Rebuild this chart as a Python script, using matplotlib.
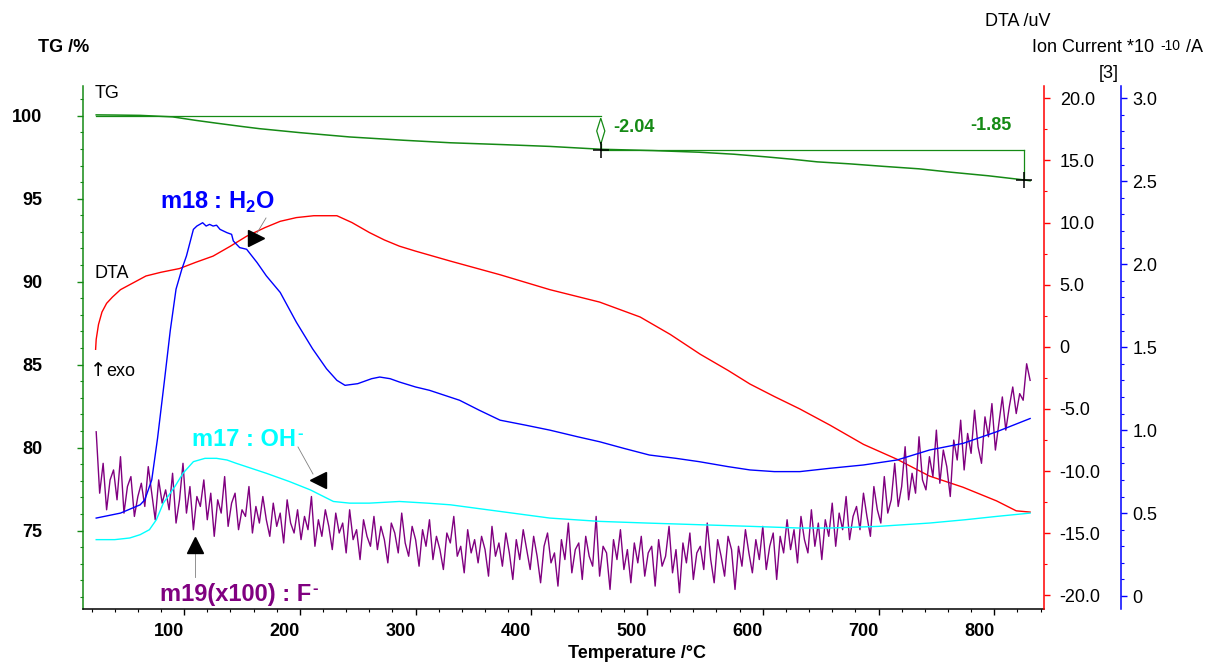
import numpy as np
import matplotlib
matplotlib.use("Agg")
import matplotlib.pyplot as plt
from matplotlib.lines import Line2D
from matplotlib.patches import Polygon
from matplotlib.ticker import FixedLocator, FuncFormatter
from matplotlib.transforms import ScaledTranslation, blended_transform_factory

plt.rcParams['font.family'] = ['Liberation Sans', 'DejaVu Sans']
plt.rcParams['mathtext.fontset'] = 'custom'
plt.rcParams['mathtext.rm'] = 'Liberation Sans'
plt.rcParams['mathtext.bf'] = 'Liberation Sans:bold'
plt.rcParams['axes.unicode_minus'] = False

W, H = 1219, 663

# TG mass curve (%)
tg_temp = [24, 40, 62, 90, 110, 128, 150, 165, 200, 243, 290, 330, 375, 416, 460,
           505, 545, 575, 603, 625, 647, 675, 704, 735, 762, 795, 826, 831]
tg_val = [100.05, 100.04, 100.02, 99.93, 99.72, 99.55, 99.35, 99.22, 98.98, 98.72, 98.52,
          98.37, 98.26, 98.15, 97.98, 97.9, 97.8, 97.68, 97.52, 97.38, 97.22, 97.1, 96.95,
          96.8, 96.6, 96.38, 96.13, 96.08]
tg_start = 100.0
tg_steps = [-2.04, -1.85]
tg_step_temp = [460, 826]

# DTA (uV)
dta_temp = [23.5, 24, 26, 29, 33, 38, 45, 53, 67, 80, 96, 110, 125, 140, 154, 170, 183, 197,
            212, 232, 245, 260, 273, 286, 300, 330, 373, 416, 459, 494, 520, 546, 570, 589,
            610, 632, 658, 687, 716, 744, 773, 802, 819, 831]
dta_val = [-0.2, 0.6, 1.8, 2.8, 3.5, 4.0, 4.6, 5.0, 5.7, 6.0, 6.3, 6.8, 7.3, 8.1, 8.9, 9.6,
           10.1, 10.4, 10.55, 10.55, 10.0, 9.2, 8.6, 8.1, 7.7, 6.9, 5.8, 4.6, 3.6, 2.4, 1.0,
           -0.6, -1.9, -3.0, -4.0, -5.0, -6.3, -7.85, -9.05, -10.4, -11.3, -12.4, -13.2, -13.3]

# ion current m18 (H2O), *1e-10 A
m18_temp = [24, 45, 62, 66, 72, 77, 83, 88, 93, 98, 102, 108, 111, 116, 119, 122, 125, 128,
            131, 137, 141, 142.5, 148, 154, 163, 171, 183, 197, 211, 223, 232, 239, 250, 262,
            269, 278, 286, 300, 312, 325, 338, 355, 373, 395, 416, 440, 459, 480, 502, 525,
            545, 570, 589, 610, 632, 658, 687, 716, 744, 773, 802, 831]
m18_val = [0.47, 0.50, 0.55, 0.58, 0.70, 0.95, 1.30, 1.60, 1.85, 1.97, 2.05, 2.21, 2.23, 2.25,
           2.23, 2.24, 2.23, 2.235, 2.21, 2.19, 2.18, 2.14, 2.10, 2.09, 2.01, 1.93, 1.83, 1.65,
           1.49, 1.37, 1.30, 1.27, 1.28, 1.31, 1.32, 1.31, 1.29, 1.26, 1.24, 1.21, 1.18, 1.12,
           1.06, 1.03, 1.0, 0.96, 0.93, 0.89, 0.85, 0.83, 0.81, 0.78, 0.76, 0.75, 0.75, 0.77,
           0.79, 0.82, 0.88, 0.92, 0.99, 1.07]

# ion current m17 (OH-)
m17_temp = [24, 40, 53, 62, 70, 76, 82, 87, 92, 99, 108, 118, 128, 137, 145, 158, 171, 191,
            209, 229, 243, 260, 286, 310, 330, 373, 416, 459, 500, 545, 590, 632, 658, 700,
            744, 775, 802, 831]
m17_val = [0.34, 0.34, 0.35, 0.37, 0.40, 0.46, 0.56, 0.61, 0.66, 0.74, 0.81, 0.83, 0.83,
           0.82, 0.80, 0.77, 0.74, 0.69, 0.64, 0.57, 0.56, 0.56, 0.57, 0.56, 0.55, 0.51,
           0.47, 0.45, 0.44, 0.43, 0.42, 0.41, 0.41, 0.42, 0.44, 0.46, 0.48, 0.50]

# ion current m19 x100 (F-), one reading every 3 degC from 24 degC
m19_val = [0.99, 0.62, 0.80, 0.52, 0.70, 0.76, 0.58, 0.84, 0.50, 0.66,
           0.72, 0.48, 0.60, 0.68, 0.54, 0.78, 0.62, 0.46, 0.70, 0.56,
           0.64, 0.52, 0.74, 0.44, 0.58, 0.80, 0.50, 0.66, 0.40, 0.60,
           0.54, 0.70, 0.46, 0.62, 0.36, 0.58, 0.50, 0.72, 0.42, 0.56,
           0.62, 0.40, 0.52, 0.48, 0.66, 0.38, 0.54, 0.44, 0.60, 0.46,
           0.36, 0.56, 0.42, 0.50, 0.32, 0.58, 0.44, 0.38, 0.52, 0.34,
           0.48, 0.40, 0.60, 0.30, 0.46, 0.36, 0.52, 0.42, 0.28, 0.50,
           0.38, 0.44, 0.26, 0.52, 0.34, 0.40, 0.22, 0.46, 0.36, 0.30,
           0.48, 0.28, 0.42, 0.34, 0.20, 0.44, 0.38, 0.26, 0.50, 0.32,
           0.24, 0.42, 0.34, 0.18, 0.40, 0.30, 0.46, 0.22, 0.36, 0.28,
           0.16, 0.38, 0.32, 0.48, 0.24, 0.30, 0.14, 0.40, 0.26, 0.34,
           0.20, 0.36, 0.28, 0.12, 0.42, 0.24, 0.32, 0.18, 0.38, 0.26,
           0.10, 0.34, 0.22, 0.40, 0.28, 0.16, 0.36, 0.24, 0.08, 0.30,
           0.38, 0.20, 0.26, 0.06, 0.34, 0.22, 0.44, 0.14, 0.28, 0.32,
           0.10, 0.36, 0.24, 0.18, 0.48, 0.12, 0.30, 0.26, 0.04, 0.34,
           0.22, 0.40, 0.16, 0.28, 0.08, 0.32, 0.20, 0.36, 0.12, 0.26,
           0.30, 0.06, 0.34, 0.18, 0.24, 0.42, 0.14, 0.28, 0.02, 0.32,
           0.20, 0.38, 0.10, 0.26, 0.30, 0.16, 0.44, 0.22, 0.08, 0.34,
           0.24, 0.12, 0.36, 0.28, 0.04, 0.30, 0.18, 0.40, 0.26, 0.14,
           0.34, 0.22, 0.42, 0.16, 0.30, 0.38, 0.10, 0.36, 0.26, 0.46,
           0.28, 0.40, 0.20, 0.48, 0.34, 0.26, 0.52, 0.30, 0.44, 0.22,
           0.46, 0.36, 0.56, 0.30, 0.50, 0.40, 0.60, 0.34, 0.48, 0.54,
           0.40, 0.62, 0.48, 0.36, 0.66, 0.52, 0.44, 0.72, 0.50, 0.58,
           0.80, 0.54, 0.66, 0.90, 0.58, 0.74, 0.62, 0.96, 0.70, 0.64,
           0.84, 0.72, 1.00, 0.68, 0.88, 0.78, 0.60, 0.94, 0.82, 1.06,
           0.76, 0.98, 0.86, 1.12, 0.90, 0.80, 1.08, 0.96, 1.16, 0.88,
           1.04, 1.20, 1.00, 1.14, 1.26, 1.10, 1.22, 1.18, 1.40, 1.30]
m19_temp = 24 + 3 * np.arange(len(m19_val))

temp_major = [100, 200, 300, 400, 500, 600, 700, 800]
tg_major = [75, 80, 85, 90, 95, 100]
dta_major = [-20, -15, -10, -5, 0, 5, 10, 15, 20]
ion_major = [0, 0.5, 1.0, 1.5, 2.0, 2.5, 3.0]

GREEN = '#158a15'
PURPLE = '#800080'


def fx(x):
    return x / W


def fy(y):
    return 1 - y / H


fig = plt.figure(figsize=(W / 100, H / 100), dpi=100)
ax = fig.add_axes([fx(83), fy(609), (1044 - 83) / W, (609 - 86) / H])
ax_dta = ax.twinx()
ax_ion = ax.twinx()

ax.set_xlim(12.6, 843)
ax.set_ylim(70.28, 101.79)
ax_dta.set_ylim(-21.1, 20.99)
ax_ion.set_ylim(-0.078, 3.074)

# spines
for a in (ax, ax_dta, ax_ion):
    for s in a.spines.values():
        s.set_visible(False)
ax.spines['left'].set_visible(True)
ax.spines['left'].set_color(GREEN)
ax.spines['bottom'].set_visible(True)
ax.spines['bottom'].set_color('black')
ax_dta.spines['right'].set_visible(True)
ax_dta.spines['right'].set_color('red')
ax_ion.spines['right'].set_visible(True)
ax_ion.spines['right'].set_color('blue')
ax_ion.spines['right'].set_position(('outward', 77 * 0.72))
for s in (ax.spines['left'], ax.spines['bottom'], ax_dta.spines['right'], ax_ion.spines['right']):
    s.set_linewidth(1.1)

# x axis: ticks at the values, labels drawn a little to the left
ax.xaxis.set_major_locator(FixedLocator(temp_major))
ax.xaxis.set_minor_locator(FixedLocator(np.arange(20, 841, 20)))
ax.tick_params(axis='x', which='major', length=4.3, width=1, color='black', labelbottom=False)
ax.tick_params(axis='x', which='minor', length=2.2, width=0.8, color='black')
xlab_tr = blended_transform_factory(ax.transData, ax.transAxes) + \
    ScaledTranslation(-15 / 100, -22 / 100, fig.dpi_scale_trans)
for t in temp_major:
    ax.text(t, 0, str(t), transform=xlab_tr, ha='center', va='center',
            fontsize=13, fontweight='bold')

# TG axis
ax.yaxis.set_major_locator(FixedLocator(tg_major))
ax.yaxis.set_minor_locator(FixedLocator(np.arange(71, 102, 1)))
ax.yaxis.set_major_formatter(FuncFormatter(lambda v, p: f'{v:.0f}'))
ax.tick_params(axis='y', which='major', length=4.3, width=1, color=GREEN, pad=25,
               labelsize=13)
ax.tick_params(axis='y', which='minor', length=2.2, width=0.8, color=GREEN)
for lab in ax.get_yticklabels():
    lab.set_fontweight('bold')


def dec_fmt(v, p):
    return '0' if abs(v) < 1e-9 else f'{v:.1f}'


ax_dta.yaxis.set_major_locator(FixedLocator(dta_major))
ax_dta.yaxis.set_minor_locator(FixedLocator(np.arange(-17.5, 20, 5)))
ax_dta.yaxis.set_major_formatter(FuncFormatter(dec_fmt))
ax_dta.tick_params(axis='y', which='major', length=4.3, width=1, color='red', pad=7,
                   labelsize=13)
ax_dta.tick_params(axis='y', which='minor', length=2.2, width=0.8, color='red')

ax_ion.yaxis.set_major_locator(FixedLocator(ion_major))
ax_ion.yaxis.set_minor_locator(FixedLocator(np.arange(0.1, 3.0, 0.1)))
ax_ion.yaxis.set_major_formatter(FuncFormatter(dec_fmt))
ax_ion.tick_params(axis='y', which='major', length=4.3, width=1, color='blue', pad=4,
                   labelsize=13)
ax_ion.tick_params(axis='y', which='minor', length=2.2, width=0.8, color='blue')

# curves
ax.plot(tg_temp, tg_val, color=GREEN, lw=1.1)
ax_dta.plot(dta_temp, dta_val, color='red', lw=1.0)
ax_ion.plot(m19_temp, m19_val, color=PURPLE, lw=1.0)
ax_ion.plot(m17_temp, m17_val, color='cyan', lw=1.0)
ax_ion.plot(m18_temp, m18_val, color='blue', lw=1.0)

# TG step evaluation
lvl1 = tg_start + tg_steps[0]
lvl2 = lvl1 + tg_steps[1]
t1, t2 = tg_step_temp
ax.plot([tg_temp[0], t1], [tg_start, tg_start], color=GREEN, lw=0.9)
ax.plot([t1, t2], [lvl1, lvl1], color=GREEN, lw=0.9)
ax.plot([t2, t2], [lvl1, lvl2], color=GREEN, lw=0.9)
ax.add_patch(Polygon([(t1, tg_start - 0.15), (t1 + 3.5, (tg_start + lvl1) / 2 + 0.1),
                      (t1, lvl1 + 0.32), (t1 - 3.5, (tg_start + lvl1) / 2 + 0.1)],
                     closed=True, fill=False, edgecolor=GREEN, lw=0.9))
ax.plot([t1, t1], [lvl1 + 0.32, lvl1], color=GREEN, lw=0.9)
ax.plot([t1, t2], [lvl1, lvl2], ls='', marker='+', ms=12, mew=1.1, color='black')

renderer = fig.canvas.get_renderer()


def tail_text(base, s, dx, dy, **kw):
    # put a small raised piece of text right after another text
    bb = base.get_window_extent(renderer)
    return fig.text(fx(bb.x1 + dx), (bb.y1 + dy) / H, s, ha='left', va='top', **kw)


# axis titles
fig.text(fx(38), fy(47), 'TG /%', fontsize=13, fontweight='bold', ha='left', va='center')
fig.text(fx(985), fy(21), 'DTA /uV', fontsize=13, ha='left', va='center')
ion_t = fig.text(fx(1032), fy(48), 'Ion Current *10', fontsize=13, ha='left', va='center')
exp_t = tail_text(ion_t, '-10', 6, 0, fontsize=10)
tail_text(exp_t, '/A', 6, 0, fontsize=13)
fig.text(fx(1109), fy(74), '[3]', fontsize=13, ha='center', va='center')
fig.text(fx(637), fy(653), 'Temperature /\u00b0C', fontsize=13, fontweight='bold',
         ha='center', va='center')

# curve names and step values
fig.text(fx(95), fy(94), 'TG', fontsize=13, ha='left', va='center')
fig.text(fx(95), fy(273), 'DTA', fontsize=13, ha='left', va='center')
fig.text(fx(90), fy(370), '\u2191', fontsize=14, family='DejaVu Sans', ha='left', va='center')
fig.text(fx(106), fy(371), 'exo', fontsize=13, ha='left', va='center')
fig.text(fx(613), fy(128), f'{tg_steps[0]:.2f}', fontsize=13, fontweight='bold',
         color=GREEN, ha='left', va='center')
fig.text(fx(970), fy(125), f'{tg_steps[1]:.2f}', fontsize=13, fontweight='bold',
         color=GREEN, ha='left', va='center')

fig.text(fx(160), fy(202), 'm18 : H$_{\\mathbf{2}}$O', fontsize=17, fontweight='bold',
         color='blue', ha='left', va='center')
m17_t = fig.text(fx(192), fy(440), 'm17 : OH', fontsize=17, fontweight='bold',
                 color='cyan', ha='left', va='center')
tail_text(m17_t, '-', 1, 2, fontsize=12, fontweight='bold', color='cyan')
m19_t = fig.text(fx(160), fy(594), 'm19(x100) : F', fontsize=17, fontweight='bold',
                 color=PURPLE, ha='left', va='center')
tail_text(m19_t, '-', 1, 2, fontsize=12, fontweight='bold', color=PURPLE)

# curve markers with leader lines
for (x0, y0, x1, y1, mk, mx, my) in [(266, 218, 257, 233, '>', 256, 238),
                                     (298, 447, 313, 474, '<', 318, 480),
                                     (195, 577, 195, 552, '^', 195, 545)]:
    fig.add_artist(Line2D([fx(x0), fx(x1)], [fy(y0), fy(y1)], color='gray', lw=0.6,
                          transform=fig.transFigure))
    fig.add_artist(Line2D([fx(mx)], [fy(my)], ls='', marker=mk, ms=11, color='black',
                          transform=fig.transFigure))

fig.savefig('out.png', dpi=100)
